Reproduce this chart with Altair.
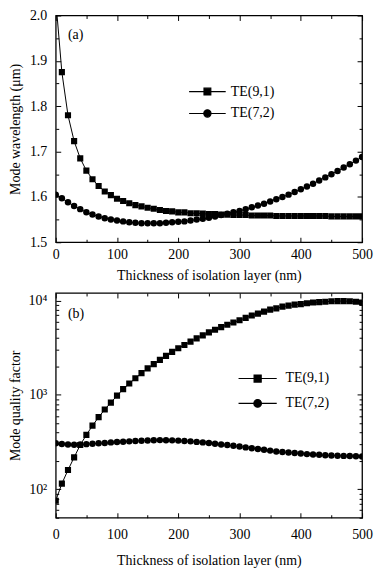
import altair as alt
import pandas as pd

thickness = list(range(0, 510, 10))
series_names = ["TE(9,1)", "TE(7,2)"]

wl_te91 = [2.035, 1.875, 1.780, 1.723, 1.685, 1.658, 1.639, 1.624, 1.612, 1.604,
           1.596, 1.591, 1.586, 1.582, 1.579, 1.576, 1.574, 1.571, 1.569, 1.568,
           1.566, 1.566, 1.564, 1.564, 1.563, 1.562, 1.562, 1.561, 1.561, 1.560,
           1.560, 1.560, 1.559, 1.559, 1.559, 1.559, 1.558, 1.558, 1.558, 1.558,
           1.558, 1.558, 1.558, 1.558, 1.558, 1.557, 1.557, 1.557, 1.557, 1.557,
           1.557]
wl_te72 = [1.605, 1.597, 1.588, 1.580, 1.573, 1.566, 1.561, 1.557, 1.553, 1.550,
           1.548, 1.546, 1.544, 1.543, 1.542, 1.542, 1.542, 1.542, 1.543, 1.544,
           1.545, 1.546, 1.548, 1.550, 1.552, 1.554, 1.557, 1.560, 1.563, 1.566,
           1.569, 1.573, 1.577, 1.581, 1.585, 1.590, 1.595, 1.600, 1.605, 1.611,
           1.617, 1.623, 1.629, 1.636, 1.643, 1.650, 1.657, 1.665, 1.672, 1.680,
           1.688]
q_te91 = [75.6, 115, 160, 218, 295, 377, 472, 581, 700, 829,
          981, 1150, 1320, 1500, 1700, 1910, 2120, 2350, 2590, 2850,
          3120, 3380, 3670, 3970, 4270, 4590, 4900, 5220, 5530, 5840,
          6170, 6540, 6920, 7260, 7620, 8000, 8250, 8590, 8810, 9020,
          9150, 9350, 9500, 9600, 9700, 9800, 9850, 9850, 9800, 9700,
          9500]
q_te72 = [308, 302, 298, 296, 298, 301, 304, 307, 310, 314,
          317, 319, 322, 325, 327, 329, 331, 332, 331, 330,
          328, 325, 322, 318, 314, 309, 304, 299, 294, 289,
          284, 278, 272, 267, 262, 257, 252, 248, 245, 242,
          239, 236, 234, 232, 230, 228, 227, 226, 225, 224,
          223]

x_major = [0, 100, 200, 300, 400, 500]
x_minor = [50, 150, 250, 350, 450]
wl_major = [1.5, 1.6, 1.7, 1.8, 1.9, 2.0]
wl_minor = [1.55, 1.65, 1.75, 1.85, 1.95]
q_major = [100, 1000, 10000]
q_minor = [50, 60, 70, 80, 90, 200, 300, 400, 500, 600, 700, 800, 900,
           2000, 3000, 4000, 5000, 6000, 7000, 8000, 9000]

panel_labels = ["(a)", "(b)"]
label_pos_x = [20, 20]
label_pos_y = [1.958, 7200]

FONT = "Liberation Serif"
W = 308
H1 = 228
H2 = 226

sq_path = "M-1.6,0H1.6M-0.3,-0.3H0.3V0.3H-0.3Z"
ci_path = "M-1.6,0H1.6M0.32,0A0.32,0.32,0,1,1,-0.32,0A0.32,0.32,0,1,1,0.32,0Z"


def long_df(a, b):
    return pd.DataFrame({
        "t": thickness * 2,
        "v": a + b,
        "series": [series_names[0]] * len(a) + [series_names[1]] * len(b),
    })


def tick_axis(orient, offset, values, size):
    return alt.Axis(orient=orient, offset=offset, values=values, tickSize=size,
                    labels=False, domain=False, grid=False, title=None,
                    tickColor="black", tickWidth=1)


def panel(df, H, yscale, ymajor, yminor, ytitle, ylabel_kw, legend_xy, sym_size,
          row_pad, lab_off, lab_x, lab_y, lab_text, x_label_pad, x_title_pad):
    xs = alt.Scale(domain=[0, 500], nice=False, zero=False)
    x_main = alt.Axis(orient="bottom", values=x_major, ticks=False, tickSize=0,
                      labelPadding=x_label_pad, labelFlush=False, domain=False, grid=False,
                      title="Thickness of isolation layer (nm)", titlePadding=x_title_pad)
    y_main = alt.Axis(orient="left", values=ymajor, ticks=False, tickSize=0,
                      labelPadding=9, labelFlush=False, domain=False, grid=False, title=ytitle,
                      titleX=-40, titleY=H / 2, titleBaseline="middle",
                      **ylabel_kw)

    base = alt.Chart(df)
    line = base.mark_line(color="black", strokeWidth=1.0, clip=True).encode(
        x=alt.X("t:Q", scale=xs, axis=x_main),
        y=alt.Y("v:Q", scale=yscale, axis=y_main),
        detail="series:N",
    )
    squares = base.transform_filter(
        alt.datum.series == series_names[0]
    ).mark_point(shape="square", filled=True, color="black", size=38, opacity=1, clip=True).encode(
        x=alt.X("t:Q", scale=xs, axis=tick_axis("top", -H, x_major, 5)),
        y=alt.Y("v:Q", scale=yscale, axis=tick_axis("right", -W, ymajor, 5)),
    )
    circles = base.transform_filter(
        alt.datum.series == series_names[1]
    ).mark_point(shape="circle", filled=True, color="black", size=42, opacity=1, clip=True).encode(
        x=alt.X("t:Q", scale=xs, axis=tick_axis("top", -H, x_minor, 3)),
        y=alt.Y("v:Q", scale=yscale, axis=tick_axis("right", -W, yminor, 3)),
    )
    legend_layer = base.transform_filter("false").mark_point(
        filled=False, fill="black", stroke="black", strokeWidth=1.1, opacity=1
    ).encode(
        x=alt.X("t:Q", scale=xs, axis=tick_axis("bottom", -H, x_major, 5)),
        y=alt.Y("v:Q", scale=yscale, axis=tick_axis("left", -W, ymajor, 5)),
        shape=alt.Shape(
            "series:N",
            scale=alt.Scale(domain=series_names, range=[sq_path, ci_path]),
            legend=alt.Legend(
                orient="none", legendX=legend_xy[0], legendY=legend_xy[1],
                title=None, symbolSize=sym_size, padding=0, rowPadding=row_pad,
                labelFont=FONT, labelFontSize=14, labelColor="black",
                labelOffset=lab_off, symbolStrokeWidth=1.1, symbolOpacity=1,
            ),
        ),
    )
    lab_df = pd.DataFrame({"t": [lab_x], "v": [lab_y], "label": [lab_text]})
    label = alt.Chart(lab_df).mark_text(
        align="left", baseline="middle", font=FONT, fontSize=14, color="black"
    ).encode(
        x=alt.X("t:Q", scale=xs, axis=tick_axis("bottom", -H, x_minor, 3)),
        y=alt.Y("v:Q", scale=yscale, axis=tick_axis("left", -W, yminor, 3)),
        text="label:N",
    )
    return alt.layer(line, squares, circles, legend_layer, label).resolve_axis(
        x="independent", y="independent"
    ).properties(width=W, height=H)


top = panel(
    long_df(wl_te91, wl_te72), H1,
    alt.Scale(domain=[1.5, 2.0], nice=False, zero=False),
    wl_major, wl_minor, "Mode wavelength (\u03bcm)", {"format": ".1f"},
    (140, 64), 529, 2, 11, label_pos_x[0], label_pos_y[0], panel_labels[0], 5, 7,
)
bottom = panel(
    long_df(q_te91, q_te72), H2,
    alt.Scale(type="log", domain=[50, 12000], nice=False),
    q_major, q_minor, "Mode quality factor",
    {"labelExpr": "datum.value == 100 ? '10\u00b2' : datum.value == 1000 ? '10\u00b3' : '10\u2074'"},
    (190, 73), 576, 5, 15, label_pos_x[1], label_pos_y[1], panel_labels[1], 10, 12,
)

chart = alt.vconcat(top, bottom, spacing=8).resolve_scale(
    shape="independent"
).resolve_legend(
    shape="independent"
).configure(
    padding={"left": 0, "top": -2, "right": 0, "bottom": 0},
    font=FONT,
).configure_view(
    stroke="black", strokeWidth=1.3
).configure_axis(
    labelFont=FONT, labelFontSize=14, labelColor="black",
    titleFont=FONT, titleFontSize=14, titleColor="black", titleFontWeight="normal",
)

chart.save("out.html", embed_options={"renderer": "svg", "actions": False})
